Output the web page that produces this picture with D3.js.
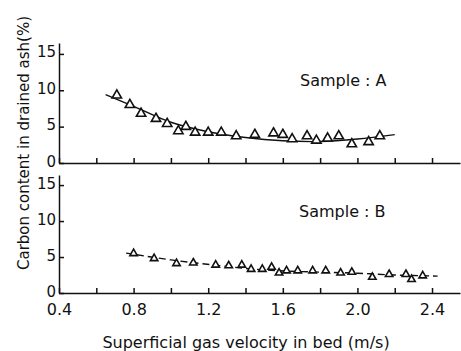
<!DOCTYPE html>
<html>
<head>
<meta charset="utf-8">
<script src="https://cdn.jsdelivr.net/npm/d3@7"></script>
<style>
  body { margin: 0; background: #fff; }
  svg { display: block; }
  text { font-family: "DejaVu Sans", sans-serif; fill: #111; }
</style>
</head>
<body>
<script>
// sample A measured points (velocity m/s, carbon %)
const aVel = [0.71, 0.78, 0.84, 0.92, 0.98, 1.04, 1.08, 1.13, 1.20, 1.27, 1.35, 1.45, 1.55, 1.60, 1.65, 1.73, 1.78, 1.84, 1.90, 1.97, 2.06, 2.12];
const aCarbon = [9.3, 8.0, 6.8, 6.1, 5.4, 4.4, 5.0, 4.2, 4.2, 4.2, 3.7, 3.9, 4.1, 3.9, 3.3, 3.7, 3.1, 3.4, 3.7, 2.6, 2.9, 3.7];
// sample A fitted curve
const aFitVel = [0.65, 0.8, 1.0, 1.2, 1.4, 1.6, 1.8, 2.0, 2.2];
const aFitCarbon = [9.4, 7.8, 5.6, 4.3, 3.5, 3.05, 2.95, 3.3, 3.9];

// sample B measured points
const bVel = [0.80, 0.91, 1.03, 1.12, 1.24, 1.31, 1.38, 1.43, 1.49, 1.54, 1.58, 1.62, 1.68, 1.76, 1.83, 1.91, 1.97, 2.08, 2.17, 2.26, 2.29, 2.35];
const bCarbon = [5.5, 4.8, 4.1, 4.2, 3.9, 3.8, 3.9, 3.3, 3.3, 3.6, 2.8, 3.1, 3.1, 3.1, 3.1, 2.8, 2.9, 2.2, 2.6, 2.6, 1.9, 2.4];
// sample B fitted curve (dashed)
const bFitVel = [0.76, 1.0, 1.26, 1.43, 1.62, 1.8, 2.0, 2.2, 2.43];
const bFitCarbon = [5.55, 4.6, 3.8, 3.35, 3.05, 2.9, 2.75, 2.5, 2.35];

const xTicks = [0.4, 0.6, 0.8, 1.0, 1.2, 1.4, 1.6, 1.8, 2.0, 2.2, 2.4];
const yTicks = [0, 5, 10, 15];

const width = 461, height = 351;
const svg = d3.select("body").append("svg")
    .attr("width", width).attr("height", height);

const x = d3.scaleLinear().domain([0.4, 2.55]).range([59, 460]);

const panels = [
    { name: "Sample : A", vel: aVel, c: aCarbon, fv: aFitVel, fc: aFitCarbon,
      y: d3.scaleLinear().domain([0, 16.5]).range([163, 43]), labels: false, dash: null, sym: 38, lx: 300, ly: 86 },
    { name: "Sample : B", vel: bVel, c: bCarbon, fv: bFitVel, fc: bFitCarbon,
      y: d3.scaleLinear().domain([0, 16.4]).range([293, 175]), labels: true, dash: "7,4", sym: 24, lx: 299, ly: 217 }
];

panels.forEach(p => {
    const y = p.y;

    // x axis, ticks pointing up
    const xAxis = d3.axisBottom(x).tickValues(xTicks)
        .tickSizeInner(-5).tickSizeOuter(0).tickPadding(11)
        .tickFormat(d => p.labels && Math.round(d * 10) % 4 === 0 ? d.toFixed(1) : "");
    const gx = svg.append("g").attr("transform", "translate(0," + y(0) + ")").call(xAxis);
    gx.selectAll("line, path").attr("stroke", "#111").attr("stroke-width", 1.5);
    gx.selectAll("text").attr("font-size", 16).attr("font-family", "DejaVu Sans").attr("fill", "#111");

    // y axis, ticks pointing right
    const yAxis = d3.axisLeft(y).tickValues(yTicks)
        .tickSizeInner(-5).tickSizeOuter(0).tickPadding(3);
    const gy = svg.append("g").attr("transform", "translate(" + x(0.4) + ",0)").call(yAxis);
    gy.selectAll("line, path").attr("stroke", "#111").attr("stroke-width", 1.5);
    gy.selectAll("text").attr("font-size", 15).attr("dy", "0.2em")
        .attr("font-family", "DejaVu Sans Condensed").attr("fill", "#111");

    // fitted curve
    const line = d3.line().x((d, i) => x(p.fv[i])).y((d, i) => y(p.fc[i])).curve(d3.curveCatmullRom);
    svg.append("path").datum(p.fv).attr("d", line)
        .attr("fill", "none").attr("stroke", "#111").attr("stroke-width", 1.4)
        .attr("stroke-dasharray", p.dash);

    // triangles
    svg.append("g").selectAll("path").data(p.vel).enter().append("path")
        .attr("d", d3.symbol(d3.symbolTriangle, p.sym))
        .attr("transform", (d, i) => "translate(" + x(d) + "," + y(p.c[i]) + ")")
        .attr("fill", "#fff").attr("stroke", "#111").attr("stroke-width", 1.6);

    svg.append("text").attr("x", p.lx).attr("y", p.ly)
        .attr("font-size", 16).text(p.name);
});

svg.append("text").attr("x", 246).attr("y", 348).attr("text-anchor", "middle")
    .attr("font-size", 16).text("Superficial gas velocity in bed (m/s)");

svg.append("text").attr("transform", "translate(29,143) rotate(-90)")
    .attr("text-anchor", "middle").attr("font-size", 15)
    .text("Carbon content in drained ash(%)");
</script>
</body>
</html>
